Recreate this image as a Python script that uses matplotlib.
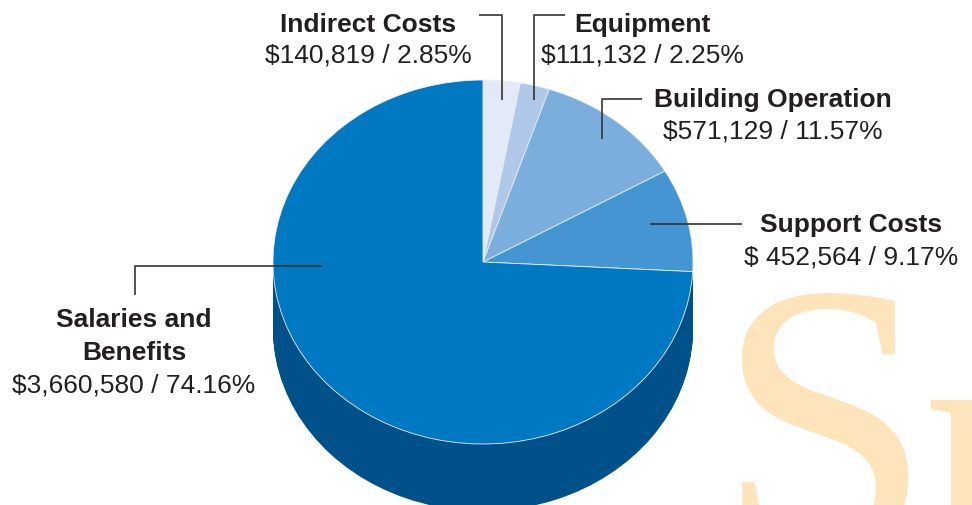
import matplotlib
matplotlib.use("Agg")
import matplotlib.pyplot as plt

# ---- data ----
categories = ["Indirect Costs", "Equipment", "Building Operation", "Support Costs", "Salaries and\nBenefits"]
amounts = [140819, 111132, 571129, 452564, 3660580]
value_labels = ["$140,819 / 2.85%", "$111,132 / 2.25%", "$571,129 / 11.57%",
                "$ 452,564 / 9.17%", "$3,660,580 / 74.16%"]
top_colors = ["#E1EAF6", "#AFC8EA", "#7BAEDC", "#4495D1", "#0079C2"]
side_colors = ["#9AA6B4", "#7A8DA6", "#5A7A9C", "#2F6591", "#00518A"]

W, H = 972, 505
fig = plt.figure(figsize=(W / 100, H / 100), dpi=100)
fig.patch.set_facecolor("white")

# pie geometry in pixels
cx, cy, rx, ry, depth = 483, 262, 210, 182, 67

ax = fig.add_axes([0, 0, 1, 1])
for k in range(depth, 0, -1):
    ax.pie(amounts, colors=side_colors, startangle=90, counterclock=False,
           radius=1, center=(0, -k / ry), wedgeprops=dict(linewidth=0))
ax.pie(amounts, colors=top_colors, startangle=90, counterclock=False,
       radius=1, center=(0, 0), wedgeprops=dict(linewidth=0.6, edgecolor="#E8F0FA"))
ax.set_aspect("auto")
ax.set_xlim(-cx / rx, (W - cx) / rx)
ax.set_ylim(-(H - cy) / ry, cy / ry)
ax.axis("off")

# overlay in pixel coordinates
ov = fig.add_axes([0, 0, 1, 1], zorder=5)
ov.set_xlim(0, W)
ov.set_ylim(H, 0)
ov.axis("off")
ov.patch.set_alpha(0)

bg = fig.add_axes([0, 0, 1, 1], zorder=-1)
bg.set_xlim(0, W)
bg.set_ylim(H, 0)
bg.axis("off")
bg.text(716, 550, "S", fontsize=280, family="Liberation Serif", color="#FEE4BA",
        ha="left", va="baseline", clip_on=True)
bg.text(922, 578, "p", fontsize=280, family="Liberation Serif", color="#FEE4BA",
        ha="left", va="baseline", clip_on=True)

txt = "#231F20"
fs = 19
# label positions: (x center, name baseline(s), value baseline)
label_pos = [
    (368, [32], 62),
    (642, [32], 62),
    (773, [107], 139),
    (851, [232], 265),
    (134, [327, 360], 392),
]
for name, val, (x, nys, vy) in zip(categories, value_labels, label_pos):
    for line, ny in zip(name.split("\n"), nys):
        ov.text(x, ny, line, fontsize=fs, fontweight="bold", family="Liberation Sans",
                color=txt, ha="center", va="baseline")
    ov.text(x, vy, val, fontsize=fs, family="Liberation Sans", color=txt,
            ha="center", va="baseline")

lc = "#333333"
lw = 1.2
leaders = [
    ([479, 502, 502], [15, 15, 100]),
    ([565, 534, 534], [15, 15, 100]),
    ([642, 602, 602], [99, 99, 139]),
    ([742, 650], [224, 224]),
    ([322, 135, 135], [266, 266, 295]),
]
for xs, ys in leaders:
    ov.plot(xs, ys, color=lc, lw=lw, solid_capstyle="butt")

fig.savefig("out.png", dpi=100, facecolor="white")
